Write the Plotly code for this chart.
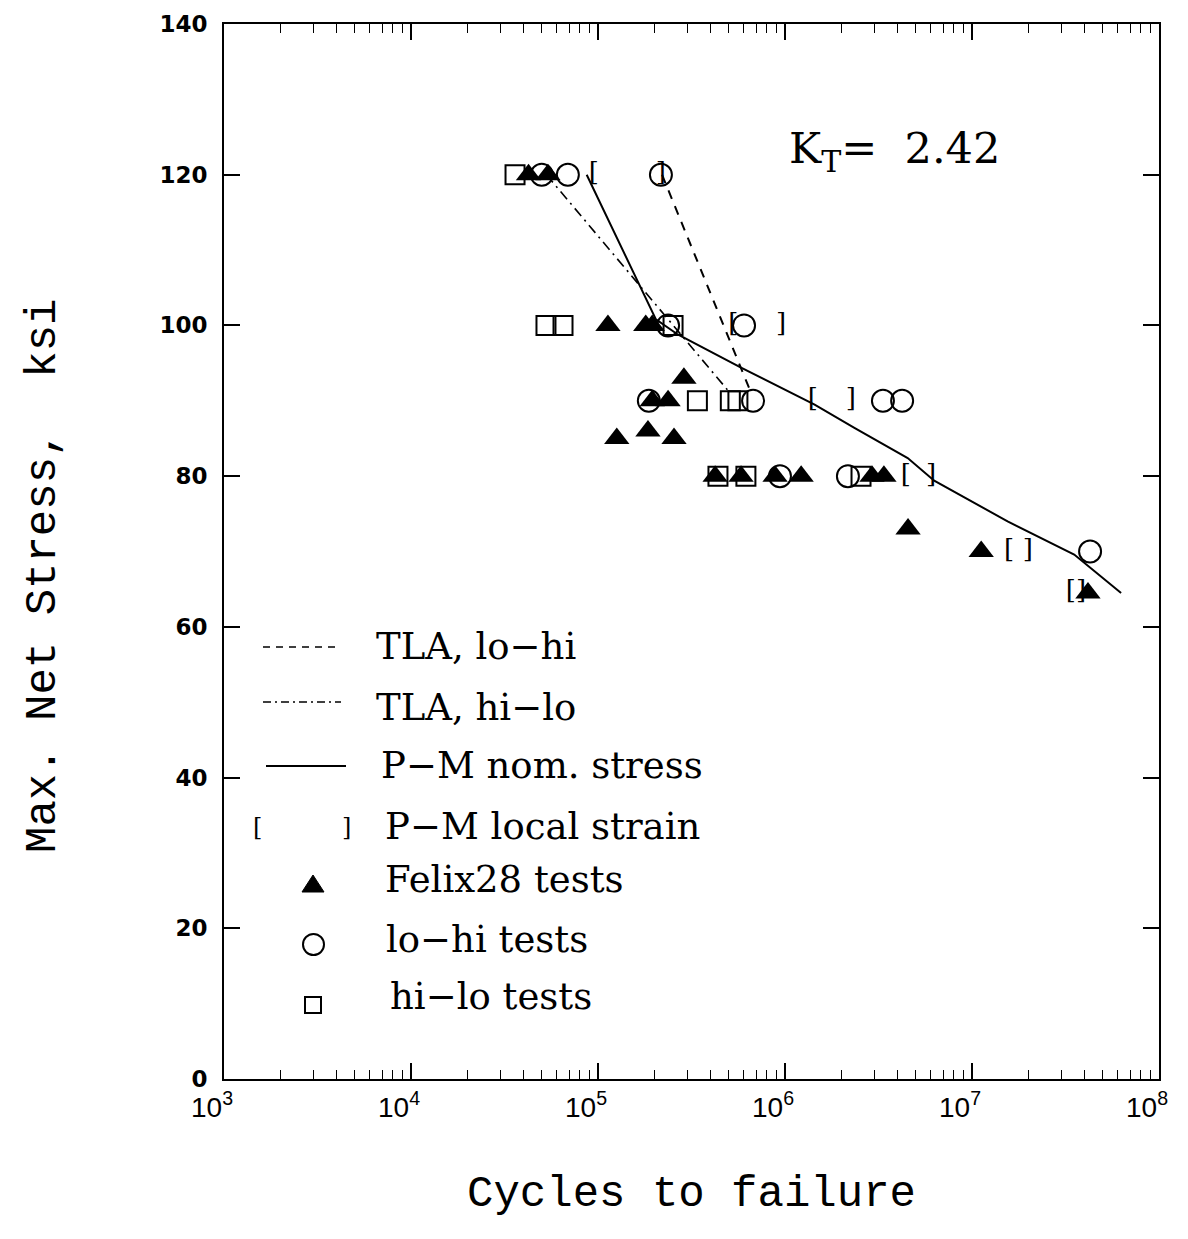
import plotly.graph_objects as go

# ---------------- data ----------------
felix_x = [4.25e4, 5.4e4, 1.13e5, 1.8e5, 1.95e5, 1.95e5, 2.37e5, 2.88e5, 1.85e5,
           1.26e5, 2.55e5, 4.23e5, 5.82e5, 8.85e5, 1.22e6, 2.92e6, 3.38e6,
           4.55e6, 1.12e7, 4.17e7]
felix_y = [120, 120, 100, 100, 100, 90, 90, 93, 86,
           85, 85, 80, 80, 80, 80, 80, 80,
           73, 70, 64.5]

lohi_x = [5.0e4, 6.9e4, 2.17e5, 2.37e5, 6.04e5, 1.87e5, 6.75e5, 3.34e6, 4.23e6,
          9.4e5, 2.17e6, 4.28e7]
lohi_y = [120, 120, 120, 100, 100, 90, 90, 90, 90, 80, 80, 70]

hilo_x = [3.6e4, 5.27e4, 6.5e4, 2.52e5, 3.4e5, 5.1e5, 5.6e5, 4.38e5, 6.18e5, 2.55e6]
hilo_y = [120, 100, 100, 100, 90, 90, 90, 80, 80, 80]

strain_lo_x = [9.5e4, 5.3e5, 1.41e6, 4.43e6, 1.58e7, 3.38e7]
strain_hi_x = [2.17e5, 9.53e5, 2.25e6, 6.04e6, 1.99e7, 3.83e7]
strain_y = [120, 100, 90, 80, 70, 64.5]

tla_lohi_x = [2.2e5, 6.6e5]
tla_lohi_y = [120, 91]
tla_hilo_x = [5.3e4, 5.1e5]
tla_hilo_y = [120, 91]

pm_nom_x = [8.7e4, 2.04e5, 2.67e5, 5.82e5, 1.44e6, 2.35e6, 4.53e6, 6.28e6,
            1.55e7, 3.52e7, 6.27e7]
pm_nom_y = [120, 100.8, 98.8, 94.4, 89.5, 86.4, 82.4, 79.4, 74.0, 69.6, 64.5]

x_tickvals = [1e3, 1e4, 1e5, 1e6, 1e7, 1e8]
x_ticktext = ["10<sup>3</sup>", "10<sup>4</sup>", "10<sup>5</sup>",
              "10<sup>6</sup>", "10<sup>7</sup>", "10<sup>8</sup>"]
minor_mantissas = [2, 3, 4, 5, 6, 7, 8, 9]
x_minor = [m * d for d in x_tickvals[:-1] for m in minor_mantissas]
y_tickvals = [0, 20, 40, 60, 80, 100, 120, 140]

legend_labels = ["TLA, lo\u2212hi", "TLA, hi\u2212lo", "P\u2212M nom. stress",
                 "P\u2212M local strain", "Felix28 tests", "lo\u2212hi tests",
                 "hi\u2212lo tests"]

# ---------------- figure ----------------
W, H = 1188, 1239
OFF = 7                       # page offset of the rendered figure
RL, RT, RR, RB = 223, 23, 1158, 1078   # plot area in the target picture
PW, PH = RR - RL, RB - RT
L, T = RL - OFF, RT - OFF
R, B = W - L - PW, H - T - PH

def px(xp):
    return (xp - RL) / PW

def py(yp):
    return (RB - yp) / PH

fig = go.Figure()

fig.add_trace(go.Scatter(x=tla_lohi_x, y=tla_lohi_y, mode="lines",
                         line=dict(color="black", width=2, dash="9px,8px"),
                         showlegend=False, hoverinfo="skip"))
fig.add_trace(go.Scatter(x=tla_hilo_x, y=tla_hilo_y, mode="lines",
                         line=dict(color="black", width=1.6, dash="10px,5px,2px,5px"),
                         showlegend=False, hoverinfo="skip"))
fig.add_trace(go.Scatter(x=pm_nom_x, y=pm_nom_y, mode="lines",
                         line=dict(color="black", width=2),
                         showlegend=False, hoverinfo="skip"))

fig.add_trace(go.Scatter(x=felix_x, y=felix_y, mode="markers",
                         marker=dict(symbol="triangle-up", size=22, color="black",
                                     line=dict(width=0)),
                         showlegend=False))
fig.add_trace(go.Scatter(x=lohi_x, y=lohi_y, mode="markers",
                         marker=dict(symbol="circle-open", size=22, color="black",
                                     line=dict(width=2, color="black")),
                         showlegend=False))
fig.add_trace(go.Scatter(x=hilo_x, y=hilo_y, mode="markers",
                         marker=dict(symbol="square-open", size=19, color="black",
                                     line=dict(width=2, color="black")),
                         showlegend=False))
fig.add_trace(go.Scatter(x=strain_lo_x, y=strain_y, mode="text",
                         text=["["] * len(strain_y),
                         textfont=dict(family="DejaVu Serif", size=26, color="black"),
                         showlegend=False))
fig.add_trace(go.Scatter(x=strain_hi_x, y=strain_y, mode="text",
                         text=["]"] * len(strain_y),
                         textfont=dict(family="DejaVu Serif", size=26, color="black"),
                         showlegend=False))

# ---------------- custom legend ----------------
leg_font = dict(family="DejaVu Serif", size=37, color="black")
text_x = [373, 373, 378, 382, 382, 383, 387]
text_y = [645, 706, 765, 825, 878, 938, 995]
shapes = []
shapes.append(dict(type="line", xref="paper", yref="paper", x0=px(262), x1=px(340),
                   y0=py(646), y1=py(646), line=dict(color="black", width=1.3, dash="7px,6px")))
shapes.append(dict(type="line", xref="paper", yref="paper", x0=px(262), x1=px(340),
                   y0=py(701), y1=py(701), line=dict(color="black", width=1.3, dash="8px,4px,2px,4px")))
shapes.append(dict(type="line", xref="paper", yref="paper", x0=px(265), x1=px(345),
                   y0=py(765), y1=py(765), line=dict(color="black", width=2)))
shapes.append(dict(type="path", xref="paper", yref="paper",
                   path="M {0},{1} L {2},{1} L {3},{4} Z".format(px(301), py(891), px(323), px(312), py(874)),
                   fillcolor="black", line=dict(color="black", width=1)))
shapes.append(dict(type="circle", xref="paper", yref="paper",
                   x0=px(302), x1=px(323), y0=py(933), y1=py(954),
                   line=dict(color="black", width=2)))
shapes.append(dict(type="rect", xref="paper", yref="paper",
                   x0=px(304), x1=px(320), y0=py(996), y1=py(1012),
                   line=dict(color="black", width=2)))

annotations = []
for lab, tx, ty in zip(legend_labels, text_x, text_y):
    annotations.append(dict(text=lab, xref="paper", yref="paper", x=px(tx), y=py(ty),
                            xanchor="left", yanchor="middle", showarrow=False, font=leg_font))
for ch, bx in (("[", 256), ("]", 345)):
    annotations.append(dict(text=ch, xref="paper", yref="paper", x=px(bx), y=py(826),
                            xanchor="center", yanchor="middle", showarrow=False,
                            font=dict(family="DejaVu Serif", size=24, color="black")))
annotations.append(dict(text="K<sub>T</sub>=\u00a0 2.42", xref="paper", yref="paper",
                        x=px(893), y=py(150), xanchor="center", yanchor="middle",
                        showarrow=False,
                        font=dict(family="DejaVu Serif", size=43, color="black")))
annotations.append(dict(text="Max. Net Stress,\u00a0\u00a0ksi", xref="paper", yref="paper",
                        x=px(42), y=py(575), xanchor="center", yanchor="middle",
                        textangle=-90, showarrow=False,
                        font=dict(family="Liberation Mono", size=44, color="black")))

fig.update_layout(
    width=W, height=H,
    margin=dict(l=L, r=R, t=T, b=B, autoexpand=False),
    paper_bgcolor="white", plot_bgcolor="white",
    shapes=shapes, annotations=annotations,
    showlegend=False,
)
fig.update_xaxes(
    type="log", range=[3, 8],
    tickmode="array", tickvals=x_tickvals, ticktext=x_ticktext,
    ticks="inside", ticklen=16, tickwidth=1.5, tickcolor="black",
    showline=True, linecolor="black", linewidth=2, mirror="ticks",
    showgrid=False, zeroline=False,
    tickfont=dict(family="Liberation Sans", size=28, color="black"),
    ticklabelstandoff=2, ticklabelshift=-12,
    minor=dict(tickmode="array", tickvals=x_minor, ticks="inside", ticklen=9,
               tickwidth=1.3, tickcolor="black", showgrid=False),
    title=dict(text="Cycles to failure", standoff=54,
               font=dict(family="Liberation Mono", size=44, color="black")),
)
fig.update_yaxes(
    range=[0, 140], tickmode="array", tickvals=y_tickvals,
    ticks="inside", ticklen=16, tickwidth=1.5, tickcolor="black",
    showline=True, linecolor="black", linewidth=2, mirror="ticks",
    showgrid=False, zeroline=False,
    tickfont=dict(family="DejaVu Sans", size=23, color="black", weight="bold"),
    ticklabelstandoff=10,
)

fig.write_html("out.html")
